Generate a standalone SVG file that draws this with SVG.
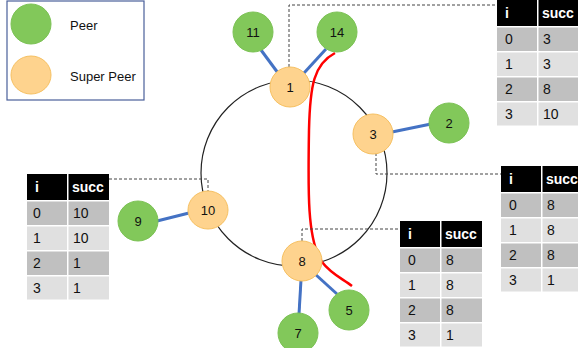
<svg xmlns="http://www.w3.org/2000/svg" width="578" height="348" viewBox="0 0 578 348">
<style>
text{font-family:"Liberation Sans","DejaVu Sans",sans-serif;font-size:13px;fill:#111}
.peer{fill:#82c85a;stroke:#7cc255;stroke-width:1}
.sp{fill:#fed38e;stroke:#f6c061;stroke-width:1}
.lbl{text-anchor:middle}
.blue{stroke:#4472c4;stroke-width:3;fill:none}
.dash{stroke:#444;stroke-width:1;stroke-dasharray:3,2;fill:none}
.hd{fill:#000}
.d{fill:#c0c0c0}
.l{fill:#e0e0e0}
.ht{fill:#fff;font-weight:bold;font-size:14px}
.ct{font-size:14px}
</style>
<rect width="578" height="348" fill="#fff"/>
<g id="legend">
<rect x="7" y="1" width="137" height="99" fill="#fff" stroke="#4a5f9a" stroke-width="1.2"/>
<circle class="peer" cx="31" cy="24" r="20"/>
<text x="70" y="30" font-size="14">Peer</text>
<ellipse class="sp" cx="31" cy="75" rx="20" ry="19"/>
<text x="70" y="81" font-size="14">Super Peer</text>
</g>
<g id="ring">
<circle cx="294" cy="173" r="93" fill="none" stroke="#222" stroke-width="1.2"/>
</g>
<g id="connectors">
<line class="blue" x1="261" y1="50" x2="278" y2="73"/>
<line class="blue" x1="326" y1="49" x2="304" y2="73"/>
<line class="blue" x1="392" y1="132" x2="431" y2="124"/>
<line class="blue" x1="157" y1="221" x2="189" y2="213"/>
<line class="blue" x1="301" y1="280" x2="299" y2="314"/>
<line class="blue" x1="315" y1="274" x2="337" y2="294"/>
<path d="M335,53 C314,64 310,85 309,130 C308,190 307,240 322,262 C331,274 343,279 352,286" fill="none" stroke="#ff0000" stroke-width="2.5"/>
<path class="dash" d="M289,67 V5 H497"/>
<path class="dash" d="M376,153 V174 H501"/>
<path class="dash" d="M302,241 V229 H400"/>
<path class="dash" d="M109,179 H208 V191"/>
</g>
<g id="n11"><circle class="peer" cx="253" cy="32" r="20"/><text class="lbl" x="253" y="37">11</text></g>
<g id="n14"><circle class="peer" cx="337" cy="32" r="20"/><text class="lbl" x="337" y="37">14</text></g>
<g id="n1"><circle class="sp" cx="290" cy="87" r="20"/><text class="lbl" x="290" y="92">1</text></g>
<g id="n3"><circle class="sp" cx="373" cy="134" r="20"/><text class="lbl" x="373" y="139">3</text></g>
<g id="n2"><circle class="peer" cx="449" cy="123" r="20"/><text class="lbl" x="449" y="128">2</text></g>
<g id="n10"><ellipse class="sp" cx="208" cy="210" rx="20" ry="19"/><text class="lbl" x="208" y="215">10</text></g>
<g id="n9"><circle class="peer" cx="138" cy="221" r="20"/><text class="lbl" x="138" y="226">9</text></g>
<g id="n8"><circle class="sp" cx="302" cy="261" r="20"/><text class="lbl" x="302" y="266">8</text></g>
<g id="n5"><circle class="peer" cx="349" cy="310" r="20"/><text class="lbl" x="349" y="315">5</text></g>
<g id="n7"><circle class="peer" cx="298" cy="333" r="20"/><text class="lbl" x="298" y="338">7</text></g>
<g id="table1" transform="translate(497,0)">
<rect class="hd" x="0" y="0" width="40" height="26"/><rect class="hd" x="41.5" y="0" width="45" height="26"/>
<rect class="d" x="0" y="27.5" width="40" height="23.5"/><rect class="d" x="41.5" y="27.5" width="45" height="23.5"/>
<rect class="l" x="0" y="52.5" width="40" height="23.5"/><rect class="l" x="41.5" y="52.5" width="45" height="23.5"/>
<rect class="d" x="0" y="77.5" width="40" height="23.5"/><rect class="d" x="41.5" y="77.5" width="45" height="23.5"/>
<rect class="l" x="0" y="102.5" width="40" height="23"/><rect class="l" x="41.5" y="102.5" width="45" height="23"/>
<text class="ht" x="8" y="18">i</text><text class="ht" x="45" y="18">succ</text>
<text class="ct" x="8" y="44">0</text><text class="ct" x="46" y="44">3</text>
<text class="ct" x="8" y="69">1</text><text class="ct" x="46" y="69">3</text>
<text class="ct" x="8" y="94">2</text><text class="ct" x="46" y="94">8</text>
<text class="ct" x="8" y="119">3</text><text class="ct" x="46" y="119">10</text>
</g>
<g id="table2" transform="translate(501,166)">
<rect class="hd" x="0" y="0" width="40" height="26"/><rect class="hd" x="41.5" y="0" width="45" height="26"/>
<rect class="d" x="0" y="27.5" width="40" height="23.5"/><rect class="d" x="41.5" y="27.5" width="45" height="23.5"/>
<rect class="l" x="0" y="52.5" width="40" height="23.5"/><rect class="l" x="41.5" y="52.5" width="45" height="23.5"/>
<rect class="d" x="0" y="77.5" width="40" height="23.5"/><rect class="d" x="41.5" y="77.5" width="45" height="23.5"/>
<rect class="l" x="0" y="102.5" width="40" height="23"/><rect class="l" x="41.5" y="102.5" width="45" height="23"/>
<text class="ht" x="8" y="18">i</text><text class="ht" x="45" y="18">succ</text>
<text class="ct" x="8" y="44">0</text><text class="ct" x="46" y="44">8</text>
<text class="ct" x="8" y="69">1</text><text class="ct" x="46" y="69">8</text>
<text class="ct" x="8" y="94">2</text><text class="ct" x="46" y="94">8</text>
<text class="ct" x="8" y="119">3</text><text class="ct" x="46" y="119">1</text>
</g>
<g id="table3" transform="translate(400,221)">
<rect class="hd" x="0" y="0" width="40" height="26"/><rect class="hd" x="41.5" y="0" width="40.5" height="26"/>
<rect class="d" x="0" y="27.5" width="40" height="23.5"/><rect class="d" x="41.5" y="27.5" width="40.5" height="23.5"/>
<rect class="l" x="0" y="52.5" width="40" height="23.5"/><rect class="l" x="41.5" y="52.5" width="40.5" height="23.5"/>
<rect class="d" x="0" y="77.5" width="40" height="23.5"/><rect class="d" x="41.5" y="77.5" width="40.5" height="23.5"/>
<rect class="l" x="0" y="102.5" width="40" height="23"/><rect class="l" x="41.5" y="102.5" width="40.5" height="23"/>
<text class="ht" x="8" y="18">i</text><text class="ht" x="45" y="18">succ</text>
<text class="ct" x="8" y="44">0</text><text class="ct" x="46" y="44">8</text>
<text class="ct" x="8" y="69">1</text><text class="ct" x="46" y="69">8</text>
<text class="ct" x="8" y="94">2</text><text class="ct" x="46" y="94">8</text>
<text class="ct" x="8" y="119">3</text><text class="ct" x="46" y="119">1</text>
</g>
<g id="table4" transform="translate(27,174)">
<rect class="hd" x="0" y="0" width="40" height="26"/><rect class="hd" x="41.5" y="0" width="40.5" height="26"/>
<rect class="d" x="0" y="27.5" width="40" height="23.5"/><rect class="d" x="41.5" y="27.5" width="40.5" height="23.5"/>
<rect class="l" x="0" y="52.5" width="40" height="23.5"/><rect class="l" x="41.5" y="52.5" width="40.5" height="23.5"/>
<rect class="d" x="0" y="77.5" width="40" height="23.5"/><rect class="d" x="41.5" y="77.5" width="40.5" height="23.5"/>
<rect class="l" x="0" y="102.5" width="40" height="23"/><rect class="l" x="41.5" y="102.5" width="40.5" height="23"/>
<text class="ht" x="8" y="18">i</text><text class="ht" x="45" y="18">succ</text>
<text class="ct" x="6" y="44">0</text><text class="ct" x="46" y="44">10</text>
<text class="ct" x="6" y="69">1</text><text class="ct" x="46" y="69">10</text>
<text class="ct" x="6" y="94">2</text><text class="ct" x="46" y="94">1</text>
<text class="ct" x="6" y="119">3</text><text class="ct" x="46" y="119">1</text>
</g>
</svg>
